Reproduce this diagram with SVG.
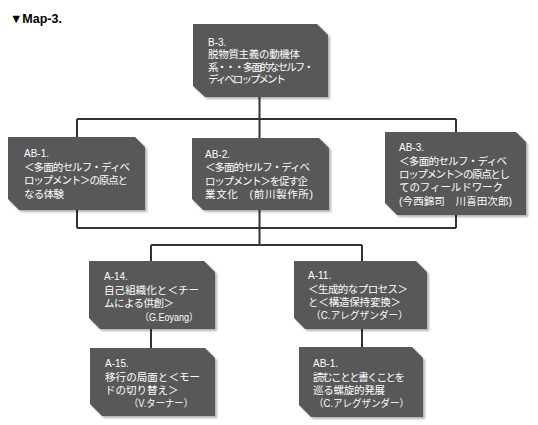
<svg xmlns="http://www.w3.org/2000/svg" width="538" height="425" viewBox="0 0 538 425">
<defs>
<filter id="sh" x="-10%" y="-10%" width="125%" height="130%">
<feDropShadow dx="2" dy="2" stdDeviation="1" flood-color="#000" flood-opacity="0.3"/>
</filter>
<style>
.box{fill:#595959;filter:url(#sh)}
.t{fill:#fff;font-family:"Liberation Sans","Noto Sans CJK JP",sans-serif;font-size:10.5px}
.id{font-size:10px}
.p{font-size:10px}
.c{fill:none;stroke:#333;stroke-width:2}
.title{font-family:"Liberation Sans","DejaVu Sans",sans-serif;font-weight:bold;font-size:12.5px;fill:#000}
</style>
</defs>
<rect width="538" height="425" fill="#fff"/>
<text class="title" x="10" y="23">▼Map-3.</text>
<g id="connectors">
<path class="c" d="M259.5 97V245"/>
<path class="c" d="M77 119H456M77 119V228M456 119V228M77 228H456"/>
<path class="c" d="M151 245H362M151 245V261M362 245V261"/>
<path class="c" d="M151 329V348M362 329V347"/>
</g>
<g id="B-3">
<polygon class="box" points="193,24 317,24 328,35 328,97 205,97 193,86"/>
<text class="t id" x="208" y="46">B-3.</text>
<text class="t" x="208" y="58" textLength="92" lengthAdjust="spacing">脱物質主義の動機体</text>
<text class="t" x="208" y="70.5" textLength="106" lengthAdjust="spacing">系・・・多面的なセルフ・</text>
<text class="t" x="208" y="83" textLength="78" lengthAdjust="spacing">ディベロップメント</text>
</g>
<g id="AB-1">
<polygon class="box" points="8,137 135,137 145,147 145,210 19,210 8,199"/>
<text class="t id" x="24" y="157">AB-1.</text>
<text class="t" x="24" y="170.5" textLength="106" lengthAdjust="spacing">＜多面的セルフ・ディベ</text>
<text class="t" x="24" y="184" textLength="104" lengthAdjust="spacing">ロップメント＞の原点と</text>
<text class="t" x="24" y="197.5" textLength="40" lengthAdjust="spacing">なる体験</text>
</g>
<g id="AB-2">
<polygon class="box" points="192,138 319,138 329,148 329,210 203,210 192,199"/>
<text class="t id" x="205" y="157.5">AB-2.</text>
<text class="t" x="205" y="171" textLength="105" lengthAdjust="spacing">＜多面的セルフ・ディベ</text>
<text class="t" x="205" y="184.5" textLength="103" lengthAdjust="spacing">ロップメント＞を促す企</text>
<text class="t" x="205" y="198" textLength="108" lengthAdjust="spacing">業文化　(前川製作所)</text>
</g>
<g id="AB-3">
<polygon class="box" points="385,132 516,132 526,142 526,215 397,215 385,203"/>
<text class="t id" x="399" y="151">AB-3.</text>
<text class="t" x="399" y="164.5" textLength="108" lengthAdjust="spacing">＜多面的セルフ・ディベ</text>
<text class="t" x="399" y="178" textLength="111" lengthAdjust="spacing">ロップメント＞の原点とし</text>
<text class="t" x="399" y="191" textLength="104" lengthAdjust="spacing">てのフィールドワーク</text>
<text class="t" x="399" y="204.5" textLength="113" lengthAdjust="spacing">(今西錦司　川喜田次郎)</text>
</g>
<g id="A-14">
<polygon class="box" points="89,261 204,261 215,272 215,329 100,329 89,318"/>
<text class="t id" x="104" y="280">A-14.</text>
<text class="t" x="104" y="293.5" textLength="95" lengthAdjust="spacing">自己組織化と＜チー</text>
<text class="t" x="104" y="307" textLength="70" lengthAdjust="spacing">ムによる供創＞</text>
<text class="t p" x="140" y="320.5" textLength="58" lengthAdjust="spacingAndGlyphs">（G.Eoyang）</text>
</g>
<g id="A-11">
<polygon class="box" points="294,261 416,261 427,272 427,329 305,329 294,318"/>
<text class="t id" x="308" y="279">A-11.</text>
<text class="t" x="308" y="292.5" textLength="100" lengthAdjust="spacing">＜生成的なプロセス＞</text>
<text class="t" x="308" y="306" textLength="93" lengthAdjust="spacing">と＜構造保持変換＞</text>
<text class="t p" x="311" y="319" textLength="97" lengthAdjust="spacingAndGlyphs">（C.アレグザンダー）</text>
</g>
<g id="A-15">
<polygon class="box" points="90,348 205,348 215,358 215,416 102,416 90,404"/>
<text class="t id" x="105" y="367">A-15.</text>
<text class="t" x="105" y="380.5" textLength="95" lengthAdjust="spacing">移行の局面と＜モー</text>
<text class="t" x="105" y="393.5">ドの切り替え＞</text>
<text class="t p" x="129" y="407" textLength="64" lengthAdjust="spacingAndGlyphs">（V.ターナー）</text>
</g>
<g id="AB-1-lower">
<polygon class="box" points="299,347 412,347 423,358 423,417 311,417 299,405"/>
<text class="t id" x="313" y="367">AB-1.</text>
<text class="t" x="313" y="381" textLength="92" lengthAdjust="spacing">読むことと書くことを</text>
<text class="t" x="313" y="394" textLength="72" lengthAdjust="spacing">巡る螺旋的発展</text>
<text class="t p" x="314" y="407" textLength="95" lengthAdjust="spacingAndGlyphs">（C.アレグザンダー）</text>
</g>
</svg>
